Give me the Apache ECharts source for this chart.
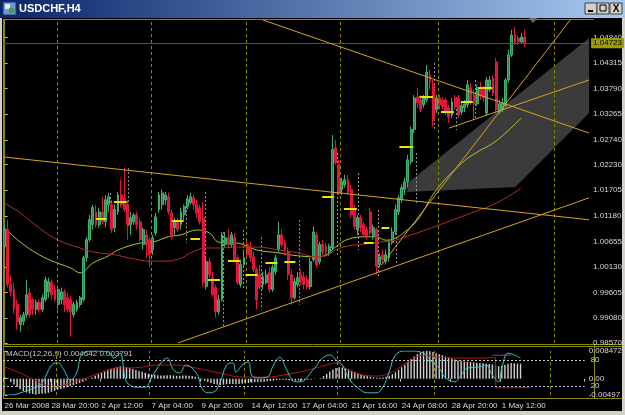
<!DOCTYPE html>
<html>
<head>
<meta charset="utf-8">
<script src="https://cdn.jsdelivr.net/npm/echarts@6/dist/echarts.min.js"></script>
<style>
  html, body { margin: 0; padding: 0; background: #d4d0c8; }
  #chart { width: 625px; height: 415px; }
</style>
</head>
<body>
<div id="chart"></div>
<script>
// USDCHF H4 - candles, two MAs, trendlines, MACD + stochastic pane

const FONT = 'Liberation Sans';
const OLIVE = '#8a8a00';

// bar slots on the time axis (166 candles + chart shift)
const barSlots = 186;

const opens = [
  1.0055,1.0090,0.9977,0.9967,0.9936,0.9895,0.9901,0.9915,0.9960,0.9946,
  0.9926,0.9940,0.9926,0.9946,0.9962,0.9981,0.9967,0.9936,0.9946,0.9962,
  0.9950,0.9946,0.9915,0.9926,0.9936,0.9946,1.0032,1.0069,1.0100,1.0126,
  1.0100,1.0126,1.0106,1.0141,1.0141,1.0094,1.0126,1.0161,1.0155,1.0141,
  1.0100,1.0106,1.0120,1.0106,1.0059,1.0079,1.0069,1.0049,1.0083,1.0131,
  1.0141,1.0151,1.0157,1.0124,1.0094,1.0106,1.0100,1.0120,1.0137,1.0145,
  1.0155,1.0141,1.0135,1.0114,0.9973,1.0024,0.9991,0.9971,0.9921,0.9946,
  1.0059,1.0073,1.0059,1.0073,1.0032,0.9977,1.0018,1.0059,1.0053,1.0034,
  1.0008,0.9997,0.9977,0.9981,1.0001,0.9967,1.0003,1.0049,1.0079,1.0063,
  1.0044,0.9997,0.9950,0.9977,0.9997,0.9993,0.9987,0.9973,1.0028,1.0079,
  1.0024,1.0059,1.0055,1.0042,1.0053,1.0258,1.0223,1.0172,1.0182,1.0192,
  1.0172,1.0131,1.0090,1.0114,1.0100,1.0090,1.0126,1.0075,1.0090,1.0018,
  1.0038,1.0024,1.0032,1.0063,1.0085,1.0126,1.0151,1.0172,1.0188,1.0229,
  1.0295,1.0362,1.0356,1.0346,1.0356,1.0407,1.0387,1.0336,1.0360,1.0356,
  1.0356,1.0340,1.0325,1.0360,1.0360,1.0331,1.0340,1.0346,1.0381,1.0366,
  1.0348,1.0381,1.0377,1.0329,1.0377,1.0401,1.0434,1.0331,1.0336,1.0344,
  1.0397,1.0448,1.0489,1.0483,1.0475,1.0485
];
const closes = [
  1.0090,0.9977,0.9962,0.9926,0.9901,0.9909,0.9915,0.9956,0.9915,0.9926,
  0.9940,0.9926,0.9950,0.9987,0.9983,0.9956,0.9946,0.9967,0.9962,0.9936,
  0.9926,0.9921,0.9936,0.9940,0.9950,1.0032,1.0069,1.0110,1.0135,1.0100,
  1.0126,1.0106,1.0151,1.0157,1.0090,1.0131,1.0161,1.0141,1.0131,1.0100,
  1.0114,1.0120,1.0100,1.0069,1.0090,1.0059,1.0038,1.0073,1.0116,1.0161,
  1.0165,1.0161,1.0126,1.0075,1.0106,1.0090,1.0126,1.0137,1.0151,1.0157,
  1.0141,1.0124,1.0106,0.9981,1.0024,0.9997,0.9956,0.9921,0.9946,1.0079,
  1.0073,1.0059,1.0079,1.0028,0.9981,1.0018,1.0032,1.0038,1.0032,1.0008,
  0.9946,0.9973,0.9993,0.9997,0.9967,1.0012,1.0032,1.0079,1.0059,1.0049,
  0.9997,0.9950,0.9983,0.9991,0.9987,0.9977,0.9973,1.0024,1.0085,1.0018,
  1.0059,1.0044,1.0044,1.0055,1.0254,1.0227,1.0165,1.0188,1.0192,1.0165,
  1.0120,1.0096,1.0114,1.0094,1.0079,1.0077,1.0083,1.0094,1.0014,1.0034,
  1.0028,1.0038,1.0063,1.0085,1.0131,1.0155,1.0176,1.0188,1.0233,1.0295,
  1.0360,1.0350,1.0336,1.0360,1.0413,1.0393,1.0315,1.0360,1.0346,1.0342,
  1.0331,1.0321,1.0352,1.0342,1.0325,1.0344,1.0348,1.0387,1.0352,1.0348,
  1.0381,1.0364,1.0360,1.0397,1.0397,1.0370,1.0336,1.0348,1.0350,1.0397,
  1.0448,1.0489,1.0475,1.0475,1.0485,1.0472
];
const highs = [
  1.0100,1.0110,0.9997,0.9981,0.9946,0.9915,0.9921,0.9987,0.9971,0.9950,
  0.9946,0.9946,0.9956,0.9993,0.9991,0.9987,0.9977,0.9975,0.9971,0.9967,
  0.9960,0.9954,0.9942,0.9946,0.9954,1.0036,1.0075,1.0120,1.0141,1.0141,
  1.0135,1.0157,1.0161,1.0165,1.0151,1.0141,1.0167,1.0192,1.0217,1.0151,
  1.0126,1.0124,1.0126,1.0114,1.0094,1.0090,1.0075,1.0079,1.0124,1.0167,
  1.0172,1.0167,1.0165,1.0131,1.0114,1.0114,1.0135,1.0141,1.0161,1.0165,
  1.0161,1.0151,1.0141,1.0147,1.0032,1.0032,1.0003,0.9977,0.9956,1.0085,
  1.0085,1.0090,1.0085,1.0083,1.0038,1.0028,1.0049,1.0069,1.0065,1.0044,
  1.0012,1.0018,1.0003,1.0008,1.0012,1.0018,1.0038,1.0106,1.0090,1.0069,
  1.0053,1.0008,0.9991,1.0003,1.0008,1.0003,0.9997,1.0032,1.0096,1.0085,
  1.0065,1.0069,1.0063,1.0061,1.0284,1.0274,1.0233,1.0196,1.0202,1.0202,
  1.0182,1.0141,1.0120,1.0120,1.0106,1.0096,1.0135,1.0100,1.0094,1.0042,
  1.0049,1.0049,1.0069,1.0094,1.0141,1.0161,1.0182,1.0196,1.0243,1.0301,
  1.0366,1.0381,1.0366,1.0366,1.0428,1.0418,1.0397,1.0366,1.0366,1.0362,
  1.0360,1.0346,1.0360,1.0366,1.0366,1.0350,1.0356,1.0397,1.0391,1.0377,
  1.0387,1.0393,1.0385,1.0403,1.0405,1.0407,1.0442,1.0356,1.0360,1.0401,
  1.0459,1.0500,1.0506,1.0489,1.0493,1.0500
];
const lows = [
  1.0049,0.9971,0.9954,0.9917,0.9885,0.9880,0.9893,0.9909,0.9909,0.9915,
  0.9915,0.9919,0.9921,0.9942,0.9950,0.9946,0.9942,0.9926,0.9936,0.9921,
  0.9919,0.9870,0.9909,0.9921,0.9930,0.9942,1.0024,1.0065,1.0090,1.0094,
  1.0094,1.0100,1.0094,1.0126,1.0083,1.0085,1.0120,1.0135,1.0126,1.0069,
  1.0079,1.0100,1.0090,1.0065,1.0049,1.0032,1.0014,1.0038,1.0077,1.0124,
  1.0131,1.0141,1.0120,1.0069,1.0079,1.0085,1.0090,1.0106,1.0131,1.0141,
  1.0131,1.0114,1.0100,0.9973,0.9967,0.9991,0.9952,0.9909,0.9915,0.9942,
  1.0053,1.0053,1.0053,1.0024,0.9977,0.9971,1.0012,1.0032,1.0024,1.0003,
  0.9926,0.9967,0.9967,0.9977,0.9960,0.9962,0.9997,1.0044,1.0053,1.0038,
  0.9987,0.9936,0.9946,0.9971,0.9977,0.9967,0.9967,0.9967,1.0024,1.0012,
  1.0018,1.0038,1.0036,1.0036,1.0049,1.0223,1.0161,1.0161,1.0176,1.0161,
  1.0114,1.0090,1.0079,1.0085,1.0073,1.0069,1.0077,1.0069,0.9997,1.0012,
  1.0022,1.0018,1.0024,1.0059,1.0079,1.0120,1.0145,1.0161,1.0176,1.0223,
  1.0288,1.0340,1.0331,1.0340,1.0352,1.0377,1.0301,1.0329,1.0336,1.0336,
  1.0325,1.0309,1.0319,1.0336,1.0319,1.0325,1.0331,1.0340,1.0346,1.0315,
  1.0344,1.0356,1.0352,1.0323,1.0372,1.0364,1.0329,1.0327,1.0331,1.0340,
  1.0391,1.0444,1.0469,1.0469,1.0471,1.0465
];

const bidPrice = 1.04723;
const priceTicks = [1.04840,1.04315,1.03790,1.03265,1.02740,1.02230,1.01705,1.01180,1.00655,1.00130,0.99605,0.99080,0.98570];

const dateLabels = ['26 Mar 2008','28 Mar 20:00','2 Apr 12:00','7 Apr 04:00','9 Apr 20:00','14 Apr 12:00','17 Apr 04:00','21 Apr 16:00','24 Apr 08:00','28 Apr 20:00','1 May 12:00'];
const dateLabelBars = [0,15,31,47,63,79,95,111,127,143,159];
const gridBars = [16.6,46.4,76.6,106.5,137.5,174.5];

// moving averages, read as [bar, price]
const maSlow = [
  [0,1.0144],[5,1.0124],[11,1.0093],[17,1.0068],[24,1.0052],[28,1.0044],[35,1.0038],[40,1.0031],
  [46,1.0025],[51,1.0025],[56,1.0031],[59,1.0042],[64,1.0052],[68,1.0052],[74,1.0054],[80,1.0054],
  [87,1.0048],[93,1.0042],[99,1.0034],[102,1.0036],[105,1.0048],[109,1.0056],[114,1.0060],[119,1.0064],
  [124,1.0068],[127,1.0075],[131,1.0083],[137,1.0097],[142,1.0109],[149,1.0126],[156,1.0144],[164,1.0175]
];
const maFast = [
  [0,1.0093],[5,1.0064],[11,1.0038],[16,1.0023],[21,1.0011],[24,1.0001],[28,1.0021],[33,1.0036],
  [36,1.0048],[43,1.0062],[47,1.0064],[52,1.0075],[56,1.0079],[61,1.0089],[65,1.0083],[68,1.0064],
  [74,1.0062],[80,1.0048],[87,1.0042],[93,1.0036],[99,1.0034],[102,1.0038],[105,1.0054],[109,1.0070],
  [115,1.0075],[118,1.0075],[121,1.0068],[124,1.0072],[127,1.0085],[131,1.0109],[137,1.0171],[145,1.0226],
  [150,1.0249],[155,1.0267],[160,1.0294],[164,1.0319]
];

// trendlines [bar1, price1, bar2, price2]
const trendLines = [
  [-0.5,1.0239,185.5,1.0110],
  [55,0.9857,185.5,1.0155],
  [82,1.0520,185.5,1.0288],
  [141,1.0298,185.5,1.0397],
  [119.6,1.0017,179.5,1.0520]
];
const channelPoly = [[127.8,1.0167],[127.8,1.0185],[185.5,1.0483],[185.5,1.0329],[162.1,1.0177]];

// short yellow levels [bar1, bar2, price]
const levelMarks = [
  [29,32.2,1.0113],[34.7,38.8,1.0146],[53,56.7,1.0107],[59,62,1.0070],[64.6,68.4,0.9986],
  [70.9,74.7,1.0025],[76.5,80.3,0.9998],[82.8,86.6,1.0021],[88.8,92.3,1.0023],[100.8,104.5,1.0157],
  [107.7,111.8,1.0132],[114,117.1,1.0062],[119.6,122.1,1.0093],[125.3,129.7,1.0259],[131.6,136,1.0362],
  [138.5,142.6,1.0331],[144.8,148.6,1.0353],[150.4,154.8,1.0380]
];
// dotted ranges [bar, top, bottom]
const rangeMarks = [
  [33.5,1.0165,1.0116],[39.4,1.0216,1.0093],[57.7,1.0154,1.0062],[63.7,1.0167,0.9972],[69.3,1.0085,0.9890],
  [75.6,1.0089,0.9966],[81.3,1.0074,0.9925],[93.5,1.0109,0.9935],[105.5,1.0247,1.0038],[112.4,1.0206,1.0048],
  [118.7,1.0130,0.9992],[124.3,1.0124,1.0021],[130.6,1.0247,1.0144],[136.3,1.0432,1.0294],[143.2,1.0362,1.0294],
  [149.5,1.0397,1.0315]
];

// MACD pane
const macdHist = [
  0.0005,0.0002,-0.0010,-0.0018,-0.0025,-0.0032,-0.0038,-0.0042,-0.0045,-0.0047,
  -0.0049,-0.0047,-0.0046,-0.0045,-0.0043,-0.0040,-0.0037,-0.0034,-0.0031,-0.0028,
  -0.0025,-0.0022,-0.0019,-0.0016,-0.0013,-0.0009,-0.0005,-0.0001,0.0004,0.0009,
  0.0014,0.0018,0.0022,0.0026,0.0030,0.0033,0.0036,0.0038,0.0037,0.0035,
  0.0033,0.0030,0.0027,0.0024,0.0021,0.0018,0.0015,0.0013,0.0012,0.0011,
  0.0010,0.0010,0.0011,0.0011,0.0010,0.0009,0.0009,0.0010,0.0010,0.0009,
  0.0008,0.0006,0.0003,-0.0002,-0.0006,-0.0010,-0.0013,-0.0016,-0.0018,-0.0019,
  -0.0018,-0.0017,-0.0016,-0.0016,-0.0017,-0.0016,-0.0015,-0.0014,-0.0013,-0.0012,
  -0.0011,-0.0010,-0.0010,-0.0009,-0.0008,-0.0007,-0.0006,-0.0004,-0.0003,-0.0003,
  -0.0004,-0.0005,-0.0006,-0.0006,-0.0005,-0.0005,-0.0004,-0.0003,-0.0002,-0.0001,
  0.0000,0.0002,0.0008,0.0015,0.0022,0.0028,0.0033,0.0035,0.0034,0.0032,
  0.0029,0.0025,0.0021,0.0017,0.0014,0.0011,0.0008,0.0006,0.0004,0.0003,
  0.0003,0.0004,0.0006,0.0009,0.0014,0.0020,0.0027,0.0035,0.0043,0.0052,
  0.0060,0.0068,0.0075,0.0080,0.0084,0.0085,0.0084,0.0082,0.0078,0.0075,
  0.0072,0.0068,0.0065,0.0062,0.0059,0.0056,0.0054,0.0053,0.0052,0.0051,
  0.0050,0.0049,0.0048,0.0047,0.0046,0.0045,0.0044,0.0040,0.0038,0.0040,
  0.0043,0.0046,0.0048,0.0047,0.0046,0.0046
];
const macdSignal = [
  [0,0.0036],[5,0.0017],[11,-0.0010],[16,-0.0025],[21,-0.0013],[26,0.0002],[31,0.0020],[36,0.0033],
  [41,0.0033],[49,0.0042],[55,0.0042],[61,0.0033],[69,0.0017],[76,0.0005],[84,0.0005],[89,0.0011],
  [96,0.0024],[103,0.0042],[106,0.0048],[111,0.0021],[119,0.0008],[124,0.0021],[129,0.0051],[134,0.0072],
  [139,0.0066],[146,0.0063],[154,0.0063],[157,0.0065]
];
const signalTail = [[157,0.0065],[157.1,-0.0028],[168,-0.0027]];
const purpleMark = [[156,0.0072],[162,0.0072]];
const macdTicks = [0.008472, 0, -0.00497];

const stochBars = [0,2,6,10,12,15,17,19,21,23,25,29,33,35,37,38,39,42,45,47,50,52,54,56,58,60,62,63,65,67,
  69,71,73,74,76,78,79,81,84,86,88,90,92,94,96,98,100,101,104,106,108,110,113,116,119,121,123,125,128,130,
  134,136,139,141,144,146,148,152,154,156,158,159,161,163,165];
const stochValues = [0,0,7,18,27,68,73,57,34,50,95,100,98,84,95,64,30,18,18,39,73,84,57,50,68,61,41,16,5,7,
  30,68,73,52,68,75,45,39,41,68,86,61,34,30,34,52,68,80,91,80,68,39,16,5,5,18,52,91,100,100,
  95,80,61,39,30,45,61,64,68,45,30,61,95,91,84];
const stochLevels = [80, 20];

const categories = Array.from({ length: barSlots }, (_, i) => i);
const candles = opens.map((o, i) => [o, closes[i], lows[i], highs[i]]);

const chart = echarts.init(document.getElementById('chart'), null, { renderer: 'canvas' });

const labelText = { color: '#d8d8d8', fontSize: 8, fontFamily: FONT };
const vGridData = gridBars.map(b => ({ xAxis: b }));

const option = {
  animation: false,
  backgroundColor: '#d4d0c8',
  graphic: [
    { type: 'rect', z: -10, shape: { x: 2, y: 18, width: 620, height: 393 }, style: { fill: '#000' } },
    { type: 'rect', z: -9, shape: { x: 0, y: 0, width: 625, height: 18 },
      style: { fill: new echarts.graphic.LinearGradient(0, 0, 1, 0, [
        { offset: 0, color: '#0a246a' }, { offset: 1, color: '#a6caf0' }]) } },
    { type: 'rect', shape: { x: 3, y: 2, width: 13, height: 13 }, style: { fill: '#6a9ad8', stroke: '#203060' } },
    { type: 'rect', shape: { x: 5, y: 4, width: 5, height: 5 }, style: { fill: '#e8e8e8' } },
    { type: 'rect', shape: { x: 9, y: 8, width: 5, height: 5 }, style: { fill: '#40a040' } },
    { type: 'text', x: 19, y: 9, style: { text: 'USDCHF,H4', fill: '#fff', font: 'bold 11px ' + FONT, verticalAlign: 'middle' } },
    { type: 'rect', shape: { x: 585, y: 3, width: 12, height: 11 }, style: { fill: '#d4d0c8', stroke: '#404040' } },
    { type: 'rect', shape: { x: 597, y: 3, width: 12, height: 11 }, style: { fill: '#d4d0c8', stroke: '#404040' } },
    { type: 'rect', shape: { x: 610, y: 3, width: 12, height: 11 }, style: { fill: '#d4d0c8', stroke: '#404040' } },
    { type: 'rect', shape: { x: 588, y: 10, width: 5, height: 2 }, style: { fill: '#000' } },
    { type: 'rect', shape: { x: 600, y: 5, width: 6, height: 6 }, style: { fill: 'none', stroke: '#000', lineWidth: 1 } },
    { type: 'text', x: 616, y: 9, style: { text: 'X', fill: '#000', font: 'bold 10px ' + FONT, align: 'center', verticalAlign: 'middle' } },
    // pane frames
    { type: 'line', shape: { x1: 3, y1: 19.5, x2: 594, y2: 19.5 }, style: { stroke: OLIVE } },
    { type: 'line', shape: { x1: 3.5, y1: 19, x2: 3.5, y2: 399 }, style: { stroke: OLIVE } },
    { type: 'line', shape: { x1: 3, y1: 344.5, x2: 622, y2: 344.5 }, style: { stroke: OLIVE } },
    { type: 'line', shape: { x1: 3, y1: 346.5, x2: 622, y2: 346.5 }, style: { stroke: OLIVE } },
    { type: 'line', shape: { x1: 3, y1: 398.5, x2: 622, y2: 398.5 }, style: { stroke: OLIVE } },
    { type: 'line', shape: { x1: 594.5, y1: 344, x2: 594.5, y2: 399 }, style: { stroke: OLIVE } },
    { type: 'polygon', shape: { points: [[529, 18], [537, 18], [533, 23]] }, style: { fill: '#707070' } },
    { type: 'text', x: 6, y: 354, style: { text: 'MACD(12,26,9) 0.004642 0.003791', fill: '#c8c8c8', font: '8px ' + FONT, verticalAlign: 'middle' } }
  ],
  grid: [
    { left: 3, top: 20, width: 591, height: 323 },
    { left: 3, top: 351, width: 591, height: 44 }
  ],
  xAxis: [
    { type: 'category', gridIndex: 0, data: categories, show: false },
    { type: 'value', gridIndex: 0, min: -0.5, max: barSlots - 0.5, show: false },
    {
      type: 'category', gridIndex: 1, data: categories,
      axisLine: { show: false },
      axisTick: { show: true, length: 3, interval: i => dateLabelBars.includes(i), lineStyle: { color: '#c0c0c0' } },
      axisLabel: Object.assign({
        interval: i => dateLabelBars.includes(i),
        formatter: (v, i) => dateLabels[dateLabelBars.indexOf(i)] || '',
        align: 'left', margin: 7
      }, labelText),
      splitLine: { show: false }
    },
    { type: 'value', gridIndex: 1, min: -0.5, max: barSlots - 0.5, show: false }
  ],
  yAxis: [
    {
      type: 'value', gridIndex: 0, position: 'right', min: 0.9857, max: 1.0520,
      splitLine: { show: false },
      axisLine: { show: true, lineStyle: { color: OLIVE } },
      axisTick: { show: true, length: 3, customValues: priceTicks, lineStyle: { color: '#c0c0c0' } },
      axisLabel: Object.assign({ customValues: priceTicks, formatter: v => v.toFixed(5), margin: 4 }, labelText)
    },
    {
      type: 'value', gridIndex: 1, position: 'right', min: -0.00497, max: 0.008472,
      splitLine: { show: false },
      axisLine: { show: true, lineStyle: { color: OLIVE } },
      axisTick: { show: true, length: 3, customValues: macdTicks, lineStyle: { color: '#c0c0c0' } },
      axisLabel: Object.assign({
        customValues: macdTicks,
        formatter: v => (v === 0 ? '0.00' : String(v)), margin: 4
      }, labelText)
    },
    {
      type: 'value', gridIndex: 1, position: 'right', min: 0, max: 100,
      splitLine: { show: false }, axisLine: { show: false },
      axisTick: { show: false },
      axisLabel: Object.assign({ customValues: stochLevels, margin: 6 }, labelText)
    }
  ],
  series: [
    {
      type: 'custom', xAxisIndex: 1, yAxisIndex: 0, z: 1, silent: true,
      data: channelPoly, encode: { x: 0, y: 1 },
      renderItem: (params, api) => {
        if (params.dataIndex > 0) return null;
        return {
          type: 'polygon',
          shape: { points: channelPoly.map(p => api.coord(p)) },
          style: { fill: '#3b3b3b' }
        };
      }
    },
    {
      type: 'candlestick', xAxisIndex: 0, yAxisIndex: 0, z: 3,
      data: candles, barWidth: 2.4,
      itemStyle: { color: '#2e8b57', color0: '#dc143c', borderColor: '#3cb371', borderColor0: '#e8163c', borderWidth: 1 }
    },
    {
      type: 'line', xAxisIndex: 1, yAxisIndex: 0, z: 4, data: maSlow, smooth: 0.4,
      symbol: 'none', lineStyle: { color: '#b03028', width: 1 },
      markLine: {
        silent: true, symbol: 'none', label: { show: false }, precision: 3,
        lineStyle: { color: OLIVE, type: [3, 3], width: 1 },
        data: vGridData
      }
    },
    {
      type: 'line', xAxisIndex: 1, yAxisIndex: 0, z: 2, data: maFast, smooth: 0.4,
      symbol: 'none', lineStyle: { color: '#a8c830', width: 1 },
      markLine: {
        silent: true, symbol: 'none', precision: 5,
        lineStyle: { color: '#3d5c5c', type: 'solid', width: 1 },
        label: {
          position: 'end', formatter: bidPrice.toFixed(5), distance: 2,
          backgroundColor: '#9c9c00', color: '#000', fontSize: 8, fontFamily: FONT, padding: [1, 2, 1, 2]
        },
        data: [{ yAxis: bidPrice }]
      }
    },
    {
      type: 'lines', coordinateSystem: 'cartesian2d', xAxisIndex: 1, yAxisIndex: 0, z: 5, silent: true, clip: true,
      data: trendLines.map(t => ({ coords: [[t[0], t[1]], [t[2], t[3]]] })),
      lineStyle: { color: '#d9a020', width: 1, opacity: 1 }
    },
    {
      type: 'lines', coordinateSystem: 'cartesian2d', xAxisIndex: 1, yAxisIndex: 0, z: 5, silent: true,
      data: levelMarks.map(m => ({ coords: [[m[0], m[2]], [m[1], m[2]]] })),
      lineStyle: { color: '#e8e800', width: 2, opacity: 1 }
    },
    {
      type: 'lines', coordinateSystem: 'cartesian2d', xAxisIndex: 1, yAxisIndex: 0, z: 2, silent: true,
      data: rangeMarks.map(m => ({ coords: [[m[0], m[1]], [m[0], m[2]]] })),
      lineStyle: { color: '#909090', width: 1, type: [2, 2], opacity: 1 }
    },
    {
      type: 'bar', xAxisIndex: 2, yAxisIndex: 1, data: macdHist, barWidth: 1.4,
      itemStyle: { color: '#d0d0d0' }, silent: true
    },
    {
      type: 'line', xAxisIndex: 3, yAxisIndex: 1, data: macdSignal, smooth: 0.4, symbol: 'none',
      lineStyle: { color: '#b01818', width: 1 },
      markLine: {
        silent: true, symbol: 'none', label: { show: false }, precision: 3,
        lineStyle: { color: OLIVE, type: [3, 3], width: 1 },
        data: vGridData
      }
    },
    {
      type: 'line', xAxisIndex: 3, yAxisIndex: 1, data: signalTail, symbol: 'none',
      lineStyle: { color: '#c01818', width: 1 }
    },
    {
      type: 'line', xAxisIndex: 3, yAxisIndex: 1, data: purpleMark, symbol: 'none',
      lineStyle: { color: '#a030a0', width: 1 }
    },
    {
      type: 'line', xAxisIndex: 3, yAxisIndex: 2, smooth: 0.4, symbol: 'none',
      data: stochBars.map((b, i) => [b, stochValues[i]]),
      lineStyle: { color: '#3cc0c8', width: 1 },
      markLine: {
        silent: true, symbol: 'none', label: { show: false },
        lineStyle: { color: '#c8c8c8', type: [2, 2], width: 1 },
        data: stochLevels.map(v => ({ yAxis: v }))
      }
    }
  ]
};

chart.setOption(option);
</script>
</body>
</html>
